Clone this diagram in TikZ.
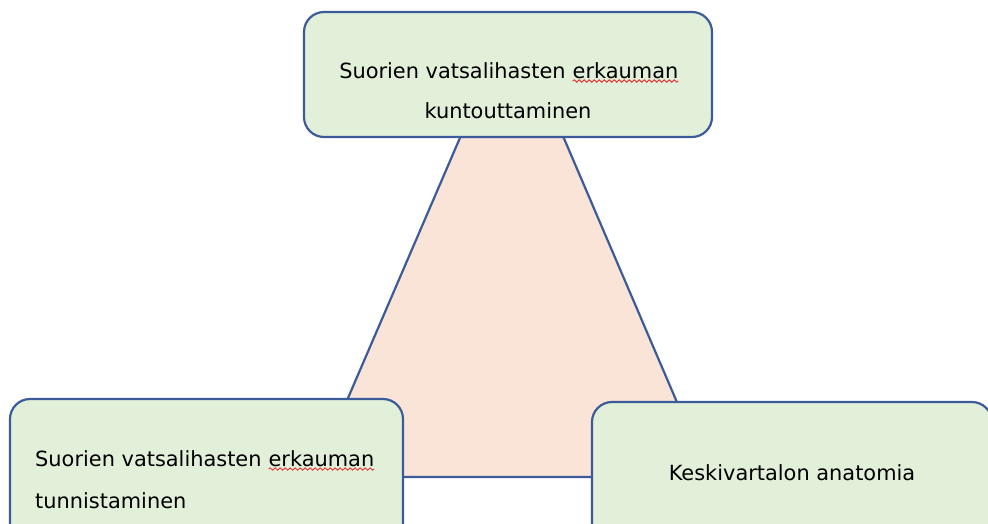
\documentclass[tikz,border=0pt]{standalone}
\usepackage{fontspec}
\setmainfont{DejaVu Sans}
\usetikzlibrary{decorations.pathmorphing}
\definecolor{boxfill}{HTML}{E2EFD9}
\definecolor{edge}{RGB}{59,92,152}
\definecolor{trifill}{HTML}{FAE4D7}
\definecolor{squig}{RGB}{230,40,40}
\newcommand{\squigword}[1]{\tikz[baseline=(sw.base)]{\node[inner sep=0pt,outer sep=0pt] (sw) {#1};\draw[squig,line width=0.8pt,decorate,decoration={snake,amplitude=1.2pt,segment length=5pt}] ([yshift=-3pt]sw.base west) -- ([yshift=-3pt]sw.base east);}}
\tikzset{
  box/.style={draw=edge, fill=boxfill, line width=2.2pt, rounded corners=20pt},
  lbl/.style={inner sep=0pt, font=\fontsize{20.9}{40}\selectfont, text=black},
}
\begin{document}
\begin{tikzpicture}[x=1pt,y=-1pt]
\useasboundingbox (0,0) rectangle (988,523);
\clip (0,0) rectangle (988,523);
% triangle
\draw[fill=trifill, draw=edge, line width=2.2pt, line join=miter] (512,17) -- (709,477) -- (314,477) -- cycle;
% boxes
\draw[box] (304,12) rectangle (712,137);
\draw[box] (10,399) rectangle (403,560);
\draw[box] (592,402) rectangle (992,560);
% labels
\node[lbl, align=center, anchor=base] (top1) at (509,78) {Suorien vatsalihasten \squigword{erkauman}};
\node[lbl, anchor=base] (top2) at (508,118) {kuntouttaminen};
\node[lbl, anchor=base west] (bl1) at (35,466) {Suorien vatsalihasten \squigword{erkauman}};
\node[lbl, anchor=base west] (bl2) at (35,508) {tunnistaminen};
\node[lbl, anchor=base] (br) at (792,480) {Keskivartalon anatomia};
\end{tikzpicture}
\end{document}
